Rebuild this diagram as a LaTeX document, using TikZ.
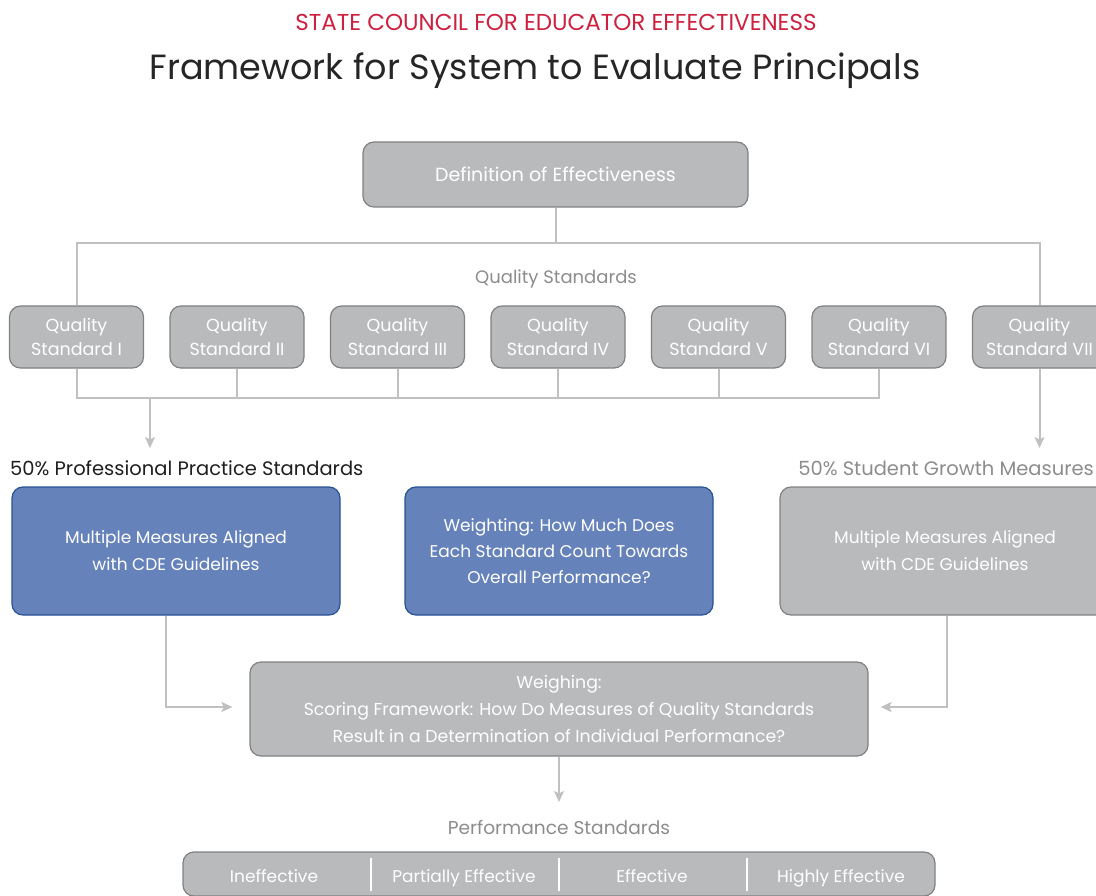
\documentclass[tikz,border=0pt]{standalone}
\usepackage{fontspec}
\setmainfont{Poppins}
\usetikzlibrary{arrows.meta}
\definecolor{boxgray}{RGB}{185,186,188}
\definecolor{boxedge}{RGB}{128,129,131}
\definecolor{linegray}{RGB}{192,192,194}
\definecolor{labgray}{RGB}{140,140,142}
\definecolor{bluefill}{RGB}{101,130,186}
\definecolor{blueedge}{RGB}{40,82,150}
\definecolor{titlered}{RGB}{206,32,63}
\newcommand{\fs}[2]{\fontsize{#1}{#2}\selectfont}
\tikzset{
  graybox/.style={draw=boxedge, line width=1.2pt, fill=boxgray, rounded corners=11pt, text=white, align=center, inner sep=0pt},
  bluebox/.style={draw=blueedge, line width=1.2pt, fill=bluefill, rounded corners=11pt, text=white, align=center, inner sep=0pt},
  qsbox/.style={graybox, minimum width=134pt, minimum height=62pt, font=\fs{17.5}{24}},
  conn/.style={draw=linegray, line width=2pt},
  arr/.style={conn, -{Stealth[length=11pt,width=10pt,inset=2.5pt]}},
  lab/.style={text=labgray, inner sep=0pt},
  perflab/.style={text=white, anchor=base, inner sep=0pt, font=\fs{17}{22}},
}
\begin{document}
\begin{tikzpicture}[x=1pt,y=-1pt]
\useasboundingbox (0,0) rectangle (1096,896);
\clip (0,0) rectangle (1096,896);
% titles
\node[text=titlered, font=\fs{23}{28}] (t1) at (556,22) {STATE COUNCIL FOR EDUCATOR EFFECTIVENESS};
\node[text=black!85, font=\fs{35}{42}] (t2) at (535,71) {Framework for System to Evaluate Principals};
% definition
\node[graybox, minimum width=385pt, minimum height=65pt, font=\fs{19}{24}] (def) at (555.5,174.5) {Definition of Effectiveness};
\node[lab, font=\fs{18}{24}] (qslab) at (556,279) {Quality Standards};
% quality standards
\node[qsbox] (qs1) at (76.5,337) {Quality\\Standard I};
\node[qsbox] (qs2) at (237,337) {Quality\\Standard II};
\node[qsbox] (qs3) at (397.5,337) {Quality\\Standard III};
\node[qsbox] (qs4) at (558,337) {Quality\\Standard IV};
\node[qsbox] (qs5) at (718.5,337) {Quality\\Standard V};
\node[qsbox] (qs6) at (879,337) {Quality\\Standard VI};
\node[qsbox] (qs7) at (1039.5,337) {Quality\\Standard VII};
\coordinate (top) at (556,243);
\coordinate (bot) at (556,398);
\draw[conn] (def.south) -- (def.south |- top);
\draw[conn] (qs1.north) -- (qs1.north |- top) -- (qs7.north |- top) -- (qs7.north);
\draw[conn] (qs1.south) -- (qs1.south |- bot) -- (qs6.south |- bot) -- (qs6.south);
\foreach \q in {qs2,qs3,qs4,qs5} \draw[conn] (\q.south) -- (\q.south |- bot);
% section labels
\node[anchor=west, text=black!88, inner sep=0pt, font=\fs{19.5}{24}] (pps) at (10,468) {50\% Professional Practice Standards};
\node[anchor=east, lab, font=\fs{19.5}{24}] (sgm) at (1094,468) {50\% Student Growth Measures};
\coordinate (a1s) at (150,398);
\coordinate (a1e) at (150,448);
\draw[arr] (a1s) -- (a1e);
\draw[arr] (qs7.south) -- (qs7.south |- a1e);
% middle boxes
\node[bluebox, minimum width=328pt, minimum height=128pt, font=\fs{17}{27}] (mm1) at (176,551) {Multiple Measures Aligned\\with CDE Guidelines};
\node[bluebox, minimum width=308pt, minimum height=128pt, font=\fs{17}{26}] (wt) at (559,551) {Weighting: How Much Does\\Each Standard Count Towards\\Overall Performance?};
\node[graybox, minimum width=330pt, minimum height=128pt, font=\fs{17}{27}] (mm2) at (945,551) {Multiple Measures Aligned\\with CDE Guidelines};
% weighing
\node[graybox, minimum width=618pt, minimum height=94pt, font=\fs{17.3}{27}] (wg) at (559,709) {Weighing:\\Scoring Framework: How Do Measures of Quality Standards\\Result in a Determination of Individual Performance?};
\coordinate (l1) at (166,707);
\coordinate (r1) at (947,707);
\draw[arr] (mm1.south -| l1) -- (l1) -- ([xshift=-17pt]wg.west |- l1);
\draw[arr] (mm2.south -| r1) -- (r1) -- ([xshift=12pt]wg.east |- r1);
\coordinate (d1) at (559,802);
\draw[arr] (wg.south) -- (d1);
\node[lab, font=\fs{18.6}{24}] (perf) at (559,827) {Performance Standards};
% performance bar
\node[graybox, minimum width=752pt, minimum height=44pt] (bar) at (559,874) {};
\node[perflab] (p1) at (274,882) {Ineffective};
\node[perflab] (p2) at (464,882) {Partially Effective};
\node[perflab] (p3) at (652,882) {Effective};
\node[perflab] (p4) at (841,882) {Highly Effective};
\foreach \x in {371,559,747} \draw[white, line width=1.2pt] (\x,858) -- (\x,891);
\end{tikzpicture}
\end{document}
